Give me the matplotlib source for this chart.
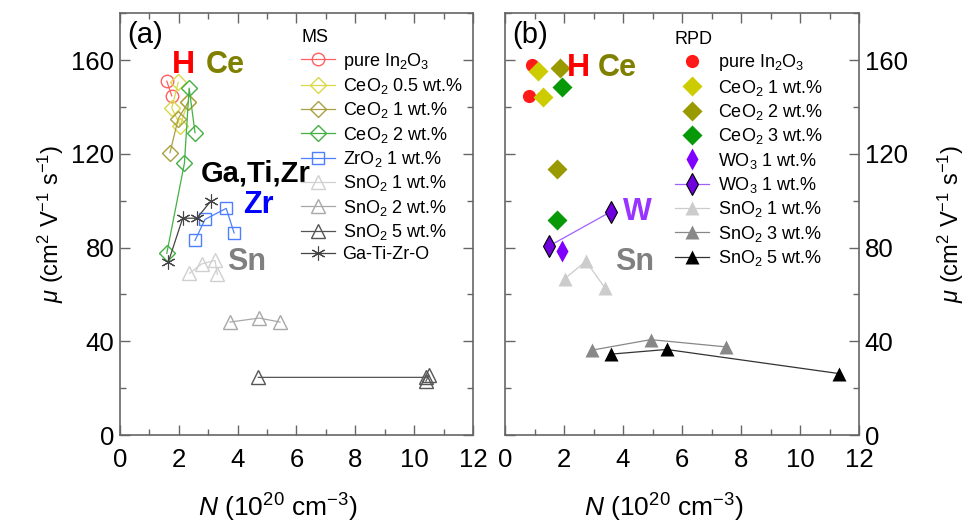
import matplotlib
matplotlib.use("Agg")
from matplotlib import pyplot as plt

plt.rcParams['font.family'] = ['Liberation Sans', 'DejaVu Sans']
plt.rcParams['mathtext.fontset'] = 'custom'
plt.rcParams['mathtext.rm'] = 'Liberation Sans'
plt.rcParams['mathtext.it'] = 'Liberation Sans:italic'
plt.rcParams['mathtext.bf'] = 'Liberation Sans:bold'

# (a) MS films: carrier density N (1e20 cm^-3) and mobility mu
ms_pure_N = [1.59, 1.76]
ms_pure_mu = [151, 144.7]
ms_ce05_N = [1.98, 1.76, 2.05, 2.30]
ms_ce05_mu = [150.5, 139.5, 132, 142]
ms_ce1_N = [1.70, 1.98, 2.32]
ms_ce1_mu = [120.5, 135, 142]
ms_ce2_N = [1.59, 2.19, 2.35, 2.55]
ms_ce2_mu = [77.5, 116, 148, 129]
ms_zr_N = [2.55, 2.89, 3.61, 3.88]
ms_zr_mu = [83, 92, 96.7, 86.2]
ms_sn1_N = [2.36, 2.78, 3.23, 3.31]
ms_sn1_mu = [69, 73, 74.5, 68.5]
ms_sn2_N = [3.74, 4.73, 5.44]
ms_sn2_mu = [48.2, 49.9, 48.2]
ms_sn5_N = [4.70, 10.41, 10.50, 10.40]
ms_sn5_mu = [24.6, 24.6, 25.5, 23.0]
ms_gtz_N = [1.64, 2.13, 2.61, 3.10]
ms_gtz_mu = [73.7, 92.5, 92.5, 100]

# (b) RPD films
rpd_pure_N = [0.90, 0.81]
rpd_pure_mu = [158, 144.7]
rpd_ce1_N = [1.13, 1.28]
rpd_ce1_mu = [155.3, 144.4]
rpd_ce2_N = [1.86, 1.75]
rpd_ce2_mu = [156.7, 113.5]
rpd_ce3_N = [1.92, 1.75]
rpd_ce3_mu = [148.5, 91.9]
rpd_wo3a_N = [1.92]
rpd_wo3a_mu = [78.7]
rpd_wo3b_N = [1.49, 3.59]
rpd_wo3b_mu = [80.6, 95.3]
rpd_sn1_N = [2.03, 2.74, 3.39]
rpd_sn1_mu = [66.7, 74.2, 62.7]
rpd_sn3_N = [2.94, 4.94, 7.49]
rpd_sn3_mu = [36.2, 40.7, 37.6]
rpd_sn5_N = [3.58, 5.48, 11.33]
rpd_sn5_mu = [34.5, 36.5, 26.2]

fig = plt.figure(figsize=(9.71, 5.32), dpi=100)
ax1 = fig.add_axes([0.1236, 0.1823, 0.3635, 0.793])
ax2 = fig.add_axes([0.5201, 0.1823, 0.3646, 0.793])

lw = 0.9
# panel (a)
ax1.plot(ms_pure_N, ms_pure_mu, '-o', color='#ff6060', mfc='none', ms=9, lw=lw, label='pure In$_2$O$_3$')
ax1.plot(ms_ce05_N, ms_ce05_mu, '-D', color='#d8d84a', mfc='none', ms=8.5, lw=lw, label='CeO$_2$ 0.5 wt.%')
ax1.plot(ms_ce1_N, ms_ce1_mu, '-D', color='#aaa040', mfc='none', ms=8.5, lw=lw, label='CeO$_2$ 1 wt.%')
ax1.plot(ms_ce2_N, ms_ce2_mu, '-D', color='#44b044', mfc='none', ms=8.5, lw=lw, label='CeO$_2$ 2 wt.%')
ax1.plot(ms_zr_N, ms_zr_mu, '-s', color='#4d7fff', mfc='none', ms=8.5, lw=lw, label='ZrO$_2$ 1 wt.%')
ax1.plot(ms_sn1_N, ms_sn1_mu, '-^', color='#d0d0d0', mfc='none', ms=9.5, lw=lw, label='SnO$_2$ 1 wt.%')
ax1.plot(ms_sn2_N, ms_sn2_mu, '-^', color='#a8a8a8', mfc='none', ms=9.5, lw=lw, label='SnO$_2$ 2 wt.%')
ax1.plot(ms_sn5_N, ms_sn5_mu, '-^', color='#555555', mfc='none', ms=9.5, lw=lw, label='SnO$_2$ 5 wt.%')
ax1.plot(ms_gtz_N, ms_gtz_mu, '-', color='#444444', ms=10, mew=0.8, lw=lw, marker=(6, 2, 0),
         label='Ga-Ti-Zr-O')

ax1.text(0.25, 170.5, '(a)', fontsize=21, va='center')
ax1.text(2.15, 158, 'H', color='#ff0000', fontsize=23, fontweight='bold', ha='center', va='center')
ax1.text(3.57, 158, 'Ce', color='#808000', fontsize=22, fontweight='bold', ha='center', va='center')
ax1.text(4.6, 111.5, 'Ga,Ti,Zr', color='black', fontsize=21, fontweight='bold', ha='center', va='center')
ax1.text(4.7, 98, 'Zr', color='#0000ff', fontsize=22, fontweight='bold', ha='center', va='center')
ax1.text(4.3, 74, 'Sn', color='#808080', fontsize=22, fontweight='bold', ha='center', va='center')

leg1 = ax1.legend(title='MS', loc='upper left', bbox_to_anchor=(0.513, 0.962), frameon=False,
                  fontsize=13, title_fontsize=13, borderpad=0, borderaxespad=0,
                  labelspacing=0.24, handlelength=1.9, handletextpad=0.4, alignment='left')

# panel (b)
ax2.plot(rpd_pure_N, rpd_pure_mu, 'o', color='#ff1a1a', ms=9.5, mec='none', label='pure In$_2$O$_3$')
ax2.plot(rpd_ce1_N, rpd_ce1_mu, 'D', color='#cccc00', ms=10, mec='none', label='CeO$_2$ 1 wt.%')
ax2.plot(rpd_ce2_N, rpd_ce2_mu, 'D', color='#999900', ms=10, mec='none', label='CeO$_2$ 2 wt.%')
ax2.plot(rpd_ce3_N, rpd_ce3_mu, 'D', color='#079907', ms=10, mec='none', label='CeO$_2$ 3 wt.%')
ax2.plot(rpd_wo3a_N, rpd_wo3a_mu, 'd', color='#8000ff', ms=11, mec='none', label='WO$_3$ 1 wt.%')
ax2.plot(rpd_wo3b_N, rpd_wo3b_mu, '-d', color='#a060ff', mfc='#7000e0', mec='black', mew=0.8, ms=11, lw=lw,
         label='WO$_3$ 1 wt.%')
ax2.plot(rpd_sn1_N, rpd_sn1_mu, '-^', color='#cccccc', ms=10.5, mec='none', lw=lw, label='SnO$_2$ 1 wt.%')
ax2.plot(rpd_sn3_N, rpd_sn3_mu, '-^', color='#888888', mfc='#888888', ms=10.5, mec='none', lw=lw,
         label='SnO$_2$ 3 wt.%')
ax2.plot(rpd_sn5_N, rpd_sn5_mu, '-^', color='#333333', mfc='black', ms=10.5, mec='none', lw=lw,
         label='SnO$_2$ 5 wt.%')

ax2.text(0.25, 170.5, '(b)', fontsize=21, va='center')
ax2.text(2.5, 156.5, 'H', color='#ff0000', fontsize=23, fontweight='bold', ha='center', va='center')
ax2.text(3.8, 156.5, 'Ce', color='#808000', fontsize=22, fontweight='bold', ha='center', va='center')
ax2.text(4.47, 95.3, 'W', color='#9933ff', fontsize=22, fontweight='bold', ha='center', va='center')
ax2.text(4.4, 74, 'Sn', color='#808080', fontsize=22, fontweight='bold', ha='center', va='center')

leg2 = ax2.legend(title='RPD', loc='upper left', bbox_to_anchor=(0.48, 0.958), frameon=False,
                  fontsize=13, title_fontsize=13, borderpad=0, borderaxespad=0,
                  labelspacing=0.24, handlelength=1.9, handletextpad=0.5, alignment='left')

for ax in (ax1, ax2):
    ax.set_xlim(0, 12)
    ax.set_ylim(0, 180)
    ax.set_xticks([0, 2, 4, 6, 8, 10, 12])
    ax.set_xticks(range(0, 13), minor=True)
    ax.set_yticks([0, 40, 80, 120, 160])
    ax.set_yticks(range(0, 181, 20), minor=True)
    ax.tick_params(which='both', direction='in', top=True, right=True, left=True,
                   labelsize=18.5, color='#666666', pad=4)
    ax.tick_params(axis='x', pad=9)
    ax.tick_params(which='major', length=7, width=1)
    ax.tick_params(which='minor', length=4, width=1)
    for s in ax.spines.values():
        s.set_color('#666666')
        s.set_linewidth(1.2)
    ax.set_xlabel(r'$\it{N}$ (10$^{20}$ cm$^{-3}$)', fontsize=19)
    ax.xaxis.set_label_coords(0.448, -0.135)

ax1.set_ylabel(r'$\mu$ (cm$^2$ V$^{-1}$ s$^{-1}$)', fontsize=17, labelpad=4)
ax2.yaxis.set_label_position('right')
ax2.tick_params(labelleft=False, labelright=True)
ax2.set_ylabel(r'$\mu$ (cm$^2$ V$^{-1}$ s$^{-1}$)', fontsize=17, labelpad=20)

plt.savefig('out.png', dpi=100)
